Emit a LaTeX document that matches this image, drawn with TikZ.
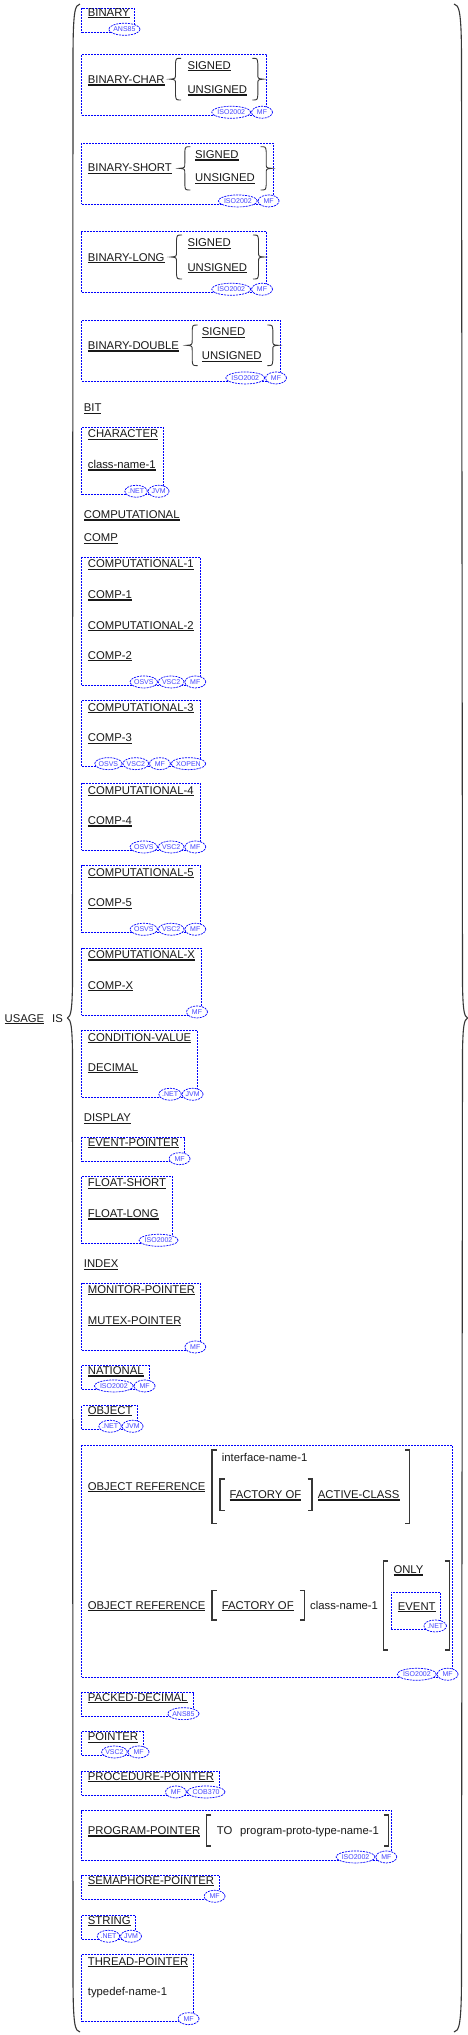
\documentclass[tikz,border=0pt]{standalone}
\usepackage{fontspec}
\setmainfont{Liberation Sans}
\usetikzlibrary{shapes.geometric,fit}
\definecolor{boxblue}{RGB}{0,0,255}
\definecolor{tagblue}{RGB}{70,70,255}
\definecolor{txt}{RGB}{25,25,25}
\definecolor{lin}{RGB}{55,55,55}
\newsavebox\ulbox
\newcommand\ul[1]{\sbox\ulbox{#1}\rlap{\rule[-2.3pt]{\wd\ulbox}{1.2pt}}\usebox\ulbox}
\newcommand\kwfont{\fontsize{11.3}{13}\selectfont}
\newcommand\tagfont{\fontsize{7}{8}\selectfont}
\newcommand\LBrace[3]{\draw[brc] ({#1+11},#2) .. controls ({#1+6},#2) .. ({#1+5.5},{#2+5}) -- ({#1+5.5},{(#2+#3)/2-5}) .. controls ({#1+5.5},{(#2+#3)/2-0.5}) .. (#1,{(#2+#3)/2}) .. controls ({#1+5.5},{(#2+#3)/2+0.5}) .. ({#1+5.5},{(#2+#3)/2+5}) -- ({#1+5.5},{#3-5}) .. controls ({#1+6},#3) .. ({#1+11},#3);}
\newcommand\RBrace[3]{\draw[brc] ({#1-11},#2) .. controls ({#1-6},#2) .. ({#1-5.5},{#2+5}) -- ({#1-5.5},{(#2+#3)/2-5}) .. controls ({#1-5.5},{(#2+#3)/2-0.5}) .. (#1,{(#2+#3)/2}) .. controls ({#1-5.5},{(#2+#3)/2+0.5}) .. ({#1-5.5},{(#2+#3)/2+5}) -- ({#1-5.5},{#3-5}) .. controls ({#1-6},#3) .. ({#1-11},#3);}
\newcommand\LBrack[3]{\draw[brk] ({#1+4.5},#2) -- (#1,#2) -- (#1,#3) -- ({#1+4.5},#3);}
\newcommand\RBrack[3]{\draw[brk] ({#1-4.5},#2) -- (#1,#2) -- (#1,#3) -- ({#1-4.5},#3);}
\tikzset{
  kw/.style={anchor=base west, inner sep=0pt, font=\kwfont, text=txt},
  vbox/.style={draw=boxblue, dash pattern=on 2pt off 1pt, line width=0.7pt, inner sep=0pt},
  tag/.style={ellipse, draw=boxblue, dash pattern=on 2pt off 1pt, line width=0.7pt, fill=white, inner sep=0pt, minimum width=21pt, minimum height=12pt, font=\tagfont, text=tagblue, anchor=east},
  tagpos/.style={xshift=5.8pt,yshift=3.4pt},
  brc/.style={draw=lin, line width=0.9pt},
  brk/.style={draw=lin, line width=1.1pt},
  bigbrc/.style={draw=lin, line width=1.1pt},
}
\begin{document}
\begin{tikzpicture}[x=1pt,y=-1pt]
\fill[white] (0,0) rectangle (468,2035);
\useasboundingbox (0,0) rectangle (468,2035);

% big braces
\draw[bigbrc] (80,4) .. controls (75,5) and (73,10) .. (73,60) -- (72.5,985) .. controls (72,1010) and (71,1016) .. (67.5,1018) .. controls (71,1020) and (72,1026) .. (72.5,1051) -- (73,1975) .. controls (73,2026) and (75,2031) .. (80,2032);
\draw[bigbrc] (454,4) .. controls (459,5) and (461.5,10) .. (461.5,60) -- (462.5,985) .. controls (463,1010) and (464,1016) .. (467.5,1018) .. controls (464,1020) and (463,1026) .. (462.5,1051) -- (461.5,1975) .. controls (461.5,2026) and (459,2031) .. (454,2032);

\node[kw] (nUsage) at (4.5,1022) {\ul{USAGE}};
\node[kw] (nIs) at (52,1022) {IS};

% BINARY
\node[vbox, fit={(81.7,8.3) (134.3,32.3)}] (bBinary) {};
\node[kw] (nBinary) at (87.7,16) {\ul{BINARY}};
\node[tag] (tBinary1) at ([tagpos]bBinary.south east) {ANS85};

% BINARY-CHAR
\node[vbox, fit={(81.7,54.3) (266.7,115.3)}] (bBChar) {};
\node[kw] (nBChar) at (87.7,83.3) {\ul{BINARY-CHAR}};
\node[kw] (nBCs) at (187.3,69) {\ul{SIGNED}};
\node[kw] (nBCu) at (187.3,93.3) {\ul{UNSIGNED}};
\LBrace{170}{58.3}{100}
\RBrace{263.3}{58.3}{100}
\node[tag] (tBChar2) at ([tagpos]bBChar.south east) {MF};
\node[tag] (tBChar1) at (tBChar2.west) {ISO2002};

% BINARY-SHORT
\node[vbox, fit={(81.7,143.3) (273.3,204)}] (bBShort) {};
\node[kw] (nBShort) at (87.7,171.7) {\ul{BINARY-SHORT}};
\node[kw] (nBSs) at (195,158.3) {\ul{SIGNED}};
\node[kw] (nBSu) at (195,181.7) {\ul{UNSIGNED}};
\LBrace{179.3}{146.7}{190}
\RBrace{271.7}{146.7}{190}
\node[tag] (tBShort2) at ([tagpos]bBShort.south east) {MF};
\node[tag] (tBShort1) at (tBShort2.west) {ISO2002};

% BINARY-LONG
\node[vbox, fit={(81.7,231.7) (266.7,292.3)}] (bBLong) {};
\node[kw] (nBLong) at (87.7,261) {\ul{BINARY-LONG}};
\node[kw] (nBLs) at (187.3,246.7) {\ul{SIGNED}};
\node[kw] (nBLu) at (187.3,271) {\ul{UNSIGNED}};
\LBrace{171}{235}{279}
\RBrace{264}{235}{279}
\node[tag] (tBLong2) at ([tagpos]bBLong.south east) {MF};
\node[tag] (tBLong1) at (tBLong2.west) {ISO2002};

% BINARY-DOUBLE
\node[vbox, fit={(81.7,320.7) (280.7,381)}] (bBDouble) {};
\node[kw] (nBDouble) at (87.7,349.3) {\ul{BINARY-DOUBLE}};
\node[kw] (nBDs) at (201.7,335.7) {\ul{SIGNED}};
\node[kw] (nBDu) at (201.7,359.7) {\ul{UNSIGNED}};
\LBrace{186.7}{325}{365.6}
\RBrace{278.3}{325}{365.6}
\node[tag] (tBDouble2) at ([tagpos]bBDouble.south east) {MF};
\node[tag] (tBDouble1) at (tBDouble2.west) {ISO2002};

% BIT
\node[kw] (nBit) at (83.7,411.7) {\ul{BIT}};

% CHARACTER
\node[vbox, fit={(81.7,427.3) (163.3,494.3)}] (bChar) {};
\node[kw] (nChar) at (87.7,437.7) {\ul{CHARACTER}};
\node[kw] (nCharCls) at (87.7,468.3) {\ul{class-name-1}};
\node[tag] (tChar2) at ([tagpos]bChar.south east) {JVM};
\node[tag] (tChar1) at (tChar2.west) {.NET};

\node[kw] (nComputational) at (83.7,518.3) {\ul{COMPUTATIONAL}};
\node[kw] (nComp) at (83.7,541.7) {\ul{COMP}};

% COMP-1/2
\node[vbox, fit={(81.7,557.7) (200,685)}] (bComp1) {};
\node[kw] (nC1a) at (87.7,567.7) {\ul{COMPUTATIONAL-1}};
\node[kw] (nC1b) at (87.7,598.3) {\ul{COMP-1}};
\node[kw] (nC2a) at (87.7,629) {\ul{COMPUTATIONAL-2}};
\node[kw] (nC2b) at (87.7,659) {\ul{COMP-2}};
\node[tag] (tComp1c) at ([tagpos]bComp1.south east) {MF};
\node[tag] (tComp1b) at (tComp1c.west) {VSC2};
\node[tag] (tComp1a) at (tComp1b.west) {OSVS};

% COMP-3
\node[vbox, fit={(81.7,700.7) (200,766.7)}] (bComp3) {};
\node[kw] (nC3a) at (87.7,711) {\ul{COMPUTATIONAL-3}};
\node[kw] (nC3b) at (87.7,741.7) {\ul{COMP-3}};
\node[tag] (tComp3d) at ([tagpos]bComp3.south east) {XOPEN};
\node[tag] (tComp3c) at (tComp3d.west) {MF};
\node[tag] (tComp3b) at (tComp3c.west) {VSC2};
\node[tag] (tComp3a) at (tComp3b.west) {OSVS};

% COMP-4
\node[vbox, fit={(81.7,783.3) (200,850)}] (bComp4) {};
\node[kw] (nC4a) at (87.7,794) {\ul{COMPUTATIONAL-4}};
\node[kw] (nC4b) at (87.7,824.3) {\ul{COMP-4}};
\node[tag] (tComp4c) at ([tagpos]bComp4.south east) {MF};
\node[tag] (tComp4b) at (tComp4c.west) {VSC2};
\node[tag] (tComp4a) at (tComp4b.west) {OSVS};

% COMP-5
\node[vbox, fit={(81.7,865.7) (200,932.3)}] (bComp5) {};
\node[kw] (nC5a) at (87.7,876) {\ul{COMPUTATIONAL-5}};
\node[kw] (nC5b) at (87.7,906.7) {\ul{COMP-5}};
\node[tag] (tComp5c) at ([tagpos]bComp5.south east) {MF};
\node[tag] (tComp5b) at (tComp5c.west) {VSC2};
\node[tag] (tComp5a) at (tComp5b.west) {OSVS};

% COMP-X
\node[vbox, fit={(81.7,948.3) (201.7,1015)}] (bCompX) {};
\node[kw] (nCXa) at (87.7,958.3) {\ul{COMPUTATIONAL-X}};
\node[kw] (nCXb) at (87.7,989) {\ul{COMP-X}};
\node[tag] (tCompX) at ([tagpos]bCompX.south east) {MF};

% CONDITION-VALUE
\node[vbox, fit={(81.7,1030.7) (197.3,1097.3)}] (bCond) {};
\node[kw] (nCond) at (87.7,1041) {\ul{CONDITION-VALUE}};
\node[kw] (nDecimal) at (87.7,1071) {\ul{DECIMAL}};
\node[tag] (tCond2) at ([tagpos]bCond.south east) {JVM};
\node[tag] (tCond1) at (tCond2.west) {.NET};

\node[kw] (nDisplay) at (83.7,1121.7) {\ul{DISPLAY}};

% EVENT-POINTER
\node[vbox, fit={(81.7,1137.7) (184.3,1161.7)}] (bEvent) {};
\node[kw] (nEvent) at (87.7,1146) {\ul{EVENT-POINTER}};
\node[tag] (tEvent) at ([tagpos]bEvent.south east) {MF};

% FLOAT
\node[vbox, fit={(81.7,1176) (172.3,1243.3)}] (bFloat) {};
\node[kw] (nFloatS) at (87.7,1186.7) {\ul{FLOAT-SHORT}};
\node[kw] (nFloatL) at (87.7,1217.3) {\ul{FLOAT-LONG}};
\node[tag] (tFloat) at ([tagpos]bFloat.south east) {ISO2002};

\node[kw] (nIndex) at (83.7,1267.7) {\ul{INDEX}};

% MONITOR / MUTEX
\node[vbox, fit={(81.7,1283.3) (200,1350)}] (bMon) {};
\node[kw] (nMon) at (87.7,1293) {\ul{MONITOR-POINTER}};
\node[kw] (nMutex) at (87.7,1324) {\ul{MUTEX-POINTER}};
\node[tag] (tMon) at ([tagpos]bMon.south east) {MF};

% NATIONAL
\node[vbox, fit={(81.7,1365.7) (149.3,1389)}] (bNat) {};
\node[kw] (nNat) at (87.7,1374.3) {\ul{NATIONAL}};
\node[tag] (tNat2) at ([tagpos]bNat.south east) {MF};
\node[tag] (tNat1) at (tNat2.west) {ISO2002};

% OBJECT
\node[vbox, fit={(81.7,1405.7) (137.3,1429.3)}] (bObj) {};
\node[kw] (nObj) at (87.7,1414) {\ul{OBJECT}};
\node[tag] (tObj2) at ([tagpos]bObj.south east) {JVM};
\node[tag] (tObj1) at (tObj2.west) {.NET};

% OBJECT REFERENCE
\node[vbox, fit={(81.7,1445.7) (452.3,1677.3)}] (bObjRef) {};
\node[kw] (nOR1) at (87.7,1490) {\ul{OBJECT REFERENCE}};
\LBrack{212}{1450}{1523.3}
\RBrack{409.5}{1450}{1523.3}
\node[kw] (nIface) at (221.7,1461.7) {interface-name-1};
\LBrack{220}{1479}{1510.7}
\RBrack{312}{1479}{1510.7}
\node[kw] (nFact1) at (229.3,1498.3) {\ul{FACTORY OF}};
\node[kw] (nActive) at (317.7,1498.3) {\ul{ACTIVE-CLASS}};

\node[kw] (nOR2) at (87.7,1609) {\ul{OBJECT REFERENCE}};
\LBrack{212}{1590.7}{1620}
\RBrack{304.3}{1590.7}{1620}
\node[kw] (nFact2) at (221.7,1609) {\ul{FACTORY OF}};
\node[kw] (nCls2) at (310,1609) {class-name-1};
\LBrack{383.3}{1561}{1650}
\RBrack{449.3}{1561}{1650}
\node[kw] (nOnly) at (393.3,1573.3) {\ul{ONLY}};
\node[vbox, fit={(391,1592.3) (440.7,1629)}] (bEv2) {};
\node[kw] (nEv2) at (397.7,1610) {\ul{EVENT}};
\node[tag] (tEv2) at ([tagpos]bEv2.south east) {.NET};
\node[tag] (tObjRef2) at ([tagpos]bObjRef.south east) {MF};
\node[tag] (tObjRef1) at (tObjRef2.west) {ISO2002};

% PACKED-DECIMAL
\node[vbox, fit={(81.7,1692.7) (193.3,1716.7)}] (bPacked) {};
\node[kw] (nPacked) at (87.7,1701) {\ul{PACKED-DECIMAL}};
\node[tag] (tPacked) at ([tagpos]bPacked.south east) {ANS85};

% POINTER
\node[vbox, fit={(81.7,1731.7) (143.3,1755)}] (bPtr) {};
\node[kw] (nPtr) at (87.7,1740.7) {\ul{POINTER}};
\node[tag] (tPtr2) at ([tagpos]bPtr.south east) {MF};
\node[tag] (tPtr1) at (tPtr2.west) {VSC2};

% PROCEDURE-POINTER
\node[vbox, fit={(81.7,1771.7) (219.3,1795)}] (bProc) {};
\node[kw] (nProc) at (87.7,1780) {\ul{PROCEDURE-POINTER}};
\node[tag] (tProc2) at ([tagpos]bProc.south east) {COB370};
\node[tag] (tProc1) at (tProc2.west) {MF};

% PROGRAM-POINTER
\node[vbox, fit={(81.7,1810.7) (391,1860)}] (bProg) {};
\node[kw] (nProg) at (87.7,1834.3) {\ul{PROGRAM-POINTER}};
\LBrack{206.7}{1815}{1846}
\RBrack{388.3}{1815}{1846}
\node[kw] (nTo) at (216.7,1834.3) {TO};
\node[kw] (nProto) at (240,1834.3) {program-proto-type-name-1};
\node[tag] (tProg2) at ([tagpos]bProg.south east) {MF};
\node[tag] (tProg1) at (tProg2.west) {ISO2002};

% SEMAPHORE-POINTER
\node[vbox, fit={(81.7,1875.7) (219.3,1899.3)}] (bSema) {};
\node[kw] (nSema) at (87.7,1884) {\ul{SEMAPHORE-POINTER}};
\node[tag] (tSema) at ([tagpos]bSema.south east) {MF};

% STRING
\node[vbox, fit={(81.7,1915.7) (135.7,1939.3)}] (bStr) {};
\node[kw] (nStr) at (87.7,1924) {\ul{STRING}};
\node[tag] (tStr2) at ([tagpos]bStr.south east) {JVM};
\node[tag] (tStr1) at (tStr2.west) {.NET};

% THREAD-POINTER
\node[vbox, fit={(81.7,1954.3) (193.3,2021.7)}] (bThread) {};
\node[kw] (nThread) at (87.7,1965) {\ul{THREAD-POINTER}};
\node[kw] (nTypedef) at (87.7,1995.7) {typedef-name-1};
\node[tag] (tThread) at ([tagpos]bThread.south east) {MF};
\end{tikzpicture}
\end{document}
